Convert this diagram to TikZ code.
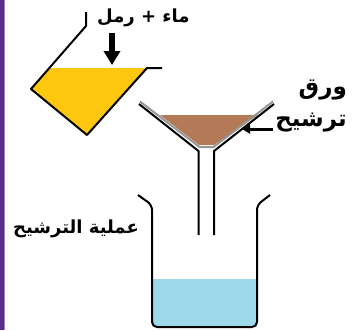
\documentclass[tikz,border=0pt]{standalone}
\usepackage{fontspec}
\usepackage{tikz}
\usetikzlibrary{arrows.meta, positioning}
\TeXXeTstate=1
\newfontfamily\arabicfont[Script=Arabic]{DejaVu Sans}

\definecolor{sand}{RGB}{253,199,15}
\definecolor{cake}{RGB}{180,121,87}
\definecolor{filtrate}{RGB}{157,217,234}
\definecolor{paper}{RGB}{150,150,150}
\definecolor{frame}{RGB}{90,45,140}

\tikzset{
  wall/.style={line width=2pt, line join=round},
  label/.style={font=\arabicfont\bfseries, inner sep=2pt},
}

\begin{document}
\begin{tikzpicture}[x=1pt, y=-1pt]
\useasboundingbox (0,0) rectangle (352,330);
\fill[frame] (0,0) rectangle (3.5,330);
\draw[frame!60, line width=1pt] (4,0) -- (4,330);

% tilted beaker with the mixture
\fill[sand] (49,68) -- (31,89) -- (87,135) -- (147,68) -- cycle;
\draw[wall] (86,12) -- (86,26) -- (31,89) -- (87,135) -- (147,68) -- (162,68);

\node[label, font=\arabicfont\bfseries\fontsize{18}{20}\selectfont, anchor=west] (mix) at (95,18) {\beginR ماء + رمل\endR};
\coordinate (pour) at (112,33);
\coordinate (surface) at (112,65);
\draw[line width=6pt, -{Triangle[width=16pt,length=14pt]}] (pour) -- (surface);

% funnel lined with filter paper
\fill[cake] (160,115) -- (258,115) -- (214,145) -- (199,145) -- cycle;
\draw[paper, line width=2pt, line join=round] (140,101.5) -- (199.5,147) -- (213.5,147) -- (273,101.5);
\draw[wall] (139,104) -- (198.5,151) -- (198.5,235);
\draw[wall] (274,104) -- (214,151) -- (214,235);

\node[label, font=\arabicfont\bfseries\fontsize{23}{25}\selectfont, anchor=east] (paperA) at (349,90) {\beginR ورق\endR};
\node[label, font=\arabicfont\bfseries\fontsize{23}{25}\selectfont, anchor=east] (paperB) at (349,123) {\beginR ترشيح\endR};
\coordinate (paperpt) at (242,129);
\draw[line width=3pt, -{Triangle[width=9pt,length=8pt]}] (paperB.west |- paperpt) -- (paperpt);

% receiving beaker
\begin{scope}
\clip[rounded corners=5pt] (152,205) -- (152,327) -- (257,327) -- (257,205) -- cycle;
\fill[filtrate] (152,279) rectangle (257,330);
\end{scope}
\draw[wall, rounded corners=5pt] (138,195) -- (152,205) -- (152,327) -- (257,327) -- (257,205) -- (270,195);

\node[label, font=\arabicfont\bfseries\fontsize{18}{20}\selectfont] (title) at (76,229) {\beginR عملية الترشيح\endR};
\end{tikzpicture}
\end{document}
